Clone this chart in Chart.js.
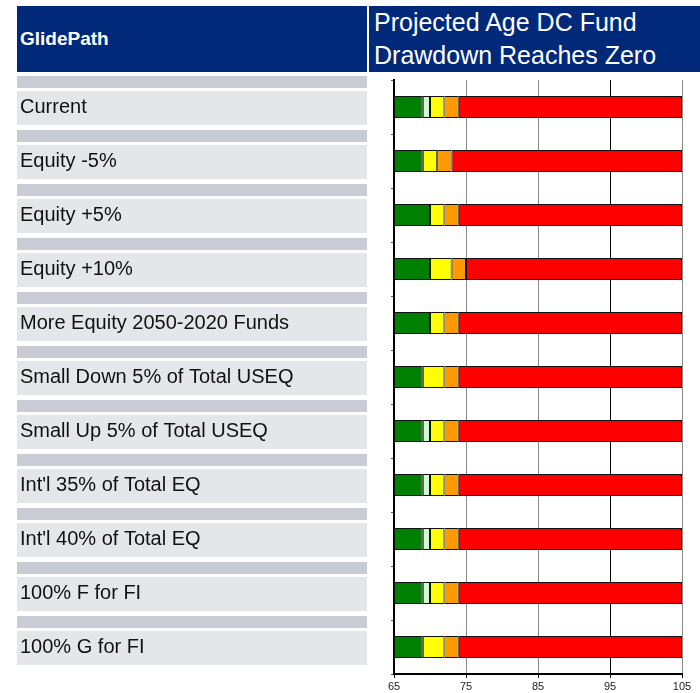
<!DOCTYPE html>
<html>
<head>
<meta charset="utf-8">
<script src="https://cdn.jsdelivr.net/npm/chart.js@4"></script>
<style>
  body { margin: 0; background: #fff; font-family: "Liberation Sans", Arial, sans-serif; }
  #wrap { position: relative; width: 700px; height: 693px; }
  #hdr-left { position: absolute; left: 17px; top: 6px; width: 350px; height: 66px; background: #00297a;
    color: #fff; font-weight: bold; font-size: 19px; line-height: 66px; padding-left: 3px; box-sizing: border-box; }
  #hdr-right { position: absolute; left: 369px; top: 6px; width: 331px; height: 66px; background: #00297a;
    color: #fff; font-size: 25px; line-height: 33px; padding-left: 5px; box-sizing: border-box; white-space: nowrap; }
</style>
</head>
<body>
<div id="wrap">
  <canvas id="chart-glide"></canvas>
  <div id="hdr-left">GlidePath</div>
  <div id="hdr-right">Projected Age DC Fund<br>Drawdown Reaches Zero</div>
</div>
<script>
// categorías (escenarios)
const escenarios = ['Current', 'Equity -5%', 'Equity +5%', 'Equity +10%', 'More Equity 2050-2020 Funds',
  'Small Down 5% of Total USEQ', 'Small Up 5% of Total USEQ', "Int'l 35% of Total EQ",
  "Int'l 40% of Total EQ", '100% F for FI', '100% G for FI'];

// edad en la que termina cada tramo (inicio del eje = 65)
const edadInicio  = 65;
const finVerde    = [69, 69, 70, 70, 70, 69, 69, 69, 69, 69, 69];
const finVerdeClr = [70, null, null, null, null, null, 70, 70, 70, 70, null];
const finAmarillo = [72, 71, 72, 73, 72, 72, 72, 72, 72, 72, 72];
const finNaranja  = [74, 73, 74, 75, 74, 74, 74, 74, 74, 74, 74];
const finRojo     = [105, 105, 105, 105, 105, 105, 105, 105, 105, 105, 105];

const ticksEdad = [65, 75, 85, 95, 105];

// arma los rangos flotantes [desde, hasta]
function tramos(desdeFn, hasta) {
  return hasta.map((h, i) => h == null ? null : [desdeFn(i), h]);
}
const dVerde    = tramos(() => edadInicio, finVerde);
const dVerdeClr = tramos(i => finVerde[i], finVerdeClr);
const dAmarillo = tramos(i => finVerdeClr[i] ?? finVerde[i], finAmarillo);
const dNaranja  = tramos(i => finAmarillo[i], finNaranja);
const dRojo     = tramos(i => finNaranja[i], finRojo);

// fondo tipo tabla detrás de las etiquetas
const filasTabla = {
  id: 'filasTabla',
  beforeDraw(chart) {
    const { ctx, scales: { y } } = chart;
    ctx.save();
    escenarios.forEach((_, i) => {
      const c = y.getPixelForValue(i);
      ctx.fillStyle = '#c9ccd4';
      ctx.fillRect(17, c - 31, 350, 12);
      ctx.fillStyle = '#e5e6e9';
      ctx.fillRect(17, c - 16, 350, 34);
    });
    ctx.restore();
  }
};

const ds = (data, color) => ({ data, backgroundColor: color, borderColor: '#111', borderWidth: 1, borderSkipped: false });

new Chart(document.getElementById('chart-glide'), {
  type: 'bar',
  data: {
    labels: escenarios,
    datasets: [
      ds(dVerde, '#008000'),
      ds(dVerdeClr, '#ccffcc'),
      ds(dAmarillo, '#ffff00'),
      ds(dNaranja, '#ff9900'),
      ds(dRojo, '#ff0000'),
    ]
  },
  plugins: [filasTabla],
  options: {
    indexAxis: 'y',
    responsive: true,
    maintainAspectRatio: false,
    animation: false,
    barPercentage: 0.41,
    categoryPercentage: 1,
    layout: { padding: { top: 80, left: 20, right: 18, bottom: 0 } },
    plugins: { legend: { display: false }, tooltip: { enabled: false } },
    scales: {
      x: {
        min: 65, max: 105,
        afterBuildTicks: s => { s.ticks = ticksEdad.map(v => ({ value: v })); },
        afterFit: s => { s.height = 19; },
        border: { color: '#000', width: 2 },
        grid: { color: c => c.tick && c.tick.value === 95 ? '#000' : '#8a8a8a', lineWidth: 1, tickLength: 4, tickColor: '#000' },
        ticks: { color: '#222', padding: 2, font: { family: 'Liberation Sans', size: 11 } }
      },
      y: {
        stacked: true,
        afterFit: s => { s.width = 374; },
        border: { color: '#000', width: 2 },
        grid: { drawOnChartArea: false, tickLength: 3, tickColor: '#555' },
        ticks: { crossAlign: 'far', autoSkip: false, color: '#111', font: { family: 'Liberation Sans', size: 20 } }
      }
    }
  }
});
</script>
</body>
</html>
